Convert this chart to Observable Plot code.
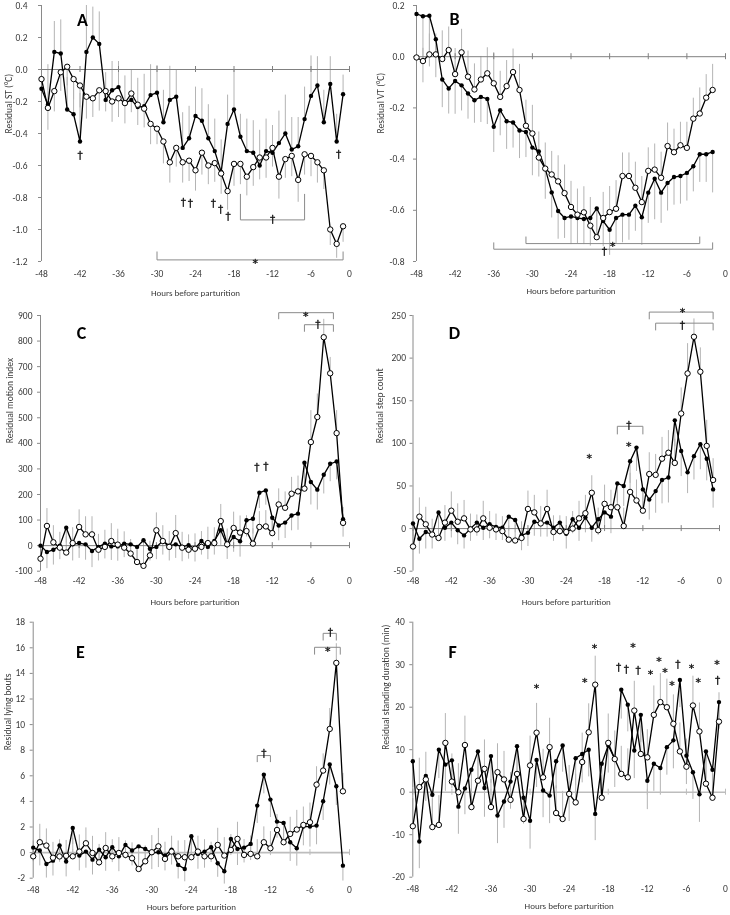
<!DOCTYPE html>
<html><head><meta charset="utf-8">
<script src="https://cdn.jsdelivr.net/npm/d3@7"></script>
<script src="https://cdn.jsdelivr.net/npm/@observablehq/plot@0.6"></script>
<style>
body{margin:0;background:#fff;}
#fig{position:relative;width:730px;height:915px;overflow:hidden;background:#fff;}
.panel{position:absolute;filter:grayscale(1);will-change:transform;}
</style></head><body><div id="fig"></div>
<script>
// ---------- data ----------
const hours = [-48,-47,-46,-45,-44,-43,-42,-41,-40,-39,-38,-37,-36,-35,-34,-33,-32,-31,-30,-29,-28,-27,-26,-25,-24,-23,-22,-21,-20,-19,-18,-17,-16,-15,-14,-13,-12,-11,-10,-9,-8,-7,-6,-5,-4,-3,-2,-1];
const hoursB = hours.slice(0, 47);
const xTicks = [-48,-42,-36,-30,-24,-18,-12,-6,0];

// Panel A: Residual ST
const stFilled = [-0.12,-0.22,0.11,0.10,-0.25,-0.28,-0.45,0.11,0.20,0.16,-0.19,-0.13,-0.11,-0.21,-0.19,-0.235,-0.23,-0.16,-0.145,-0.33,-0.19,-0.17,-0.49,-0.43,-0.29,-0.32,-0.43,-0.51,-0.64,-0.34,-0.25,-0.42,-0.51,-0.52,-0.60,-0.51,-0.52,-0.46,-0.40,-0.50,-0.48,-0.31,-0.165,-0.10,-0.33,-0.09,-0.45,-0.155];
const stOpen = [-0.06,-0.24,-0.135,-0.017,0.017,-0.06,-0.10,-0.17,-0.18,-0.13,-0.135,-0.20,-0.18,-0.21,-0.15,-0.22,-0.245,-0.34,-0.37,-0.45,-0.58,-0.49,-0.58,-0.57,-0.63,-0.52,-0.60,-0.585,-0.65,-0.76,-0.59,-0.59,-0.67,-0.61,-0.55,-0.55,-0.49,-0.67,-0.56,-0.54,-0.69,-0.53,-0.54,-0.58,-0.63,-1.00,-1.09,-0.98];
const stErrFilled = [0.12,0.25,0.19,0.21,0.2,0.22,0.3,0.29,0.19,0.2,0.17,0.18,0.16,0.17,0.19,0.18,0.2,0.19,0.17,0.2,0.21,0.17,0.22,0.2,0.18,0.2,0.21,0.2,0.2,0.18,0.25,0.14,0.2,0.2,0.22,0.2,0.17,0.2,0.24,0.2,0.18,0.2,0.25,0.18,0.2,0.17,0.17,0.12];
const stErrOpen = [0.12,0.14,0.13,0.12,0.12,0.13,0.14,0.14,0.12,0.13,0.13,0.13,0.12,0.13,0.12,0.13,0.12,0.13,0.1,0.14,0.13,0.12,0.13,0.13,0.13,0.14,0.12,0.12,0.13,0.12,0.14,0.13,0.12,0.12,0.14,0.13,0.12,0.14,0.12,0.13,0.14,0.13,0.13,0.13,0.12,0.1,0.09,0.1];
const stTicks = [-1.2,-1.0,-0.8,-0.6,-0.4,-0.2,0,0.2,0.4];

// Panel B: Residual VT (ends at -2 h)
const vtFilled = [0.167,0.158,0.16,0.068,-0.089,-0.124,-0.095,-0.112,-0.144,-0.17,-0.157,-0.165,-0.274,-0.209,-0.252,-0.257,-0.288,-0.294,-0.355,-0.37,-0.437,-0.53,-0.603,-0.63,-0.624,-0.63,-0.634,-0.63,-0.593,-0.642,-0.676,-0.63,-0.617,-0.617,-0.582,-0.627,-0.531,-0.477,-0.531,-0.493,-0.47,-0.466,-0.454,-0.428,-0.381,-0.381,-0.372];
const vtOpen = [-0.003,-0.017,0.009,0.009,-0.009,0.026,-0.068,0.017,-0.078,-0.128,-0.089,-0.065,-0.104,-0.157,-0.115,-0.06,-0.13,-0.27,-0.30,-0.394,-0.437,-0.46,-0.487,-0.533,-0.587,-0.617,-0.608,-0.66,-0.705,-0.63,-0.607,-0.594,-0.466,-0.466,-0.512,-0.568,-0.446,-0.441,-0.473,-0.349,-0.373,-0.346,-0.356,-0.242,-0.222,-0.16,-0.13];
const vtErrFilled = [0.1,0.26,0.2,0.15,0.11,0.1,0.13,0.1,0.1,0.09,0.1,0.1,0.1,0.1,0.11,0.1,0.11,0.1,0.11,0.1,0.12,0.1,0.11,0.08,0.11,0.1,0.1,0.11,0.1,0.1,0.1,0.1,0.11,0.1,0.1,0.11,0.12,0.16,0.12,0.11,0.11,0.11,0.11,0.1,0.11,0.11,0.16];
const vtErrOpen = [0.02,0.05,0.08,0.08,0.11,0.09,0.1,0.09,0.1,0.1,0.09,0.1,0.12,0.1,0.1,0.09,0.1,0.1,0.11,0.1,0.1,0.09,0.1,0.11,0.1,0.1,0.1,0.11,0.1,0.1,0.1,0.11,0.09,0.09,0.1,0.1,0.09,0.1,0.1,0.09,0.09,0.09,0.1,0.08,0.1,0.09,0.1];
const vtTicks = [-0.8,-0.6,-0.4,-0.2,0,0.2];

// Panel C: Residual motion index
const miFilled = [0,-25,-16,0,70,5,10,5,-21,-5,8,-3,-3,8,5,-5,21,-12,-5,18,0,5,-5,2,-12,18,-5,18,60,1,34,17,99,105,207,216,109,79,90,118,125,324,249,219,277,320,329,103];
const miOpen = [-51,77,13,-8,-27,10,73,44,44,-16,-5,18,4,-8,-31,-64,-79,-38,60,18,-5,49,-8,-16,-12,-5,10,10,96,5,69,51,57,8,73,75,49,161,148,203,212,223,405,503,815,674,440,89];
const miErrFilled = [55,65,60,55,60,65,60,62,65,55,60,55,58,55,50,55,52,48,50,55,60,55,58,55,52,55,50,55,60,55,60,62,65,60,62,58,55,60,62,60,65,70,90,80,75,70,72,70];
const miErrOpen = [50,68,65,60,62,60,67,69,69,60,65,68,60,62,55,52,50,55,68,60,60,69,60,58,58,60,62,60,65,60,62,65,60,58,60,62,60,61,62,64,60,65,123,90,70,62,88,60];
const miTicks = [-100,0,100,200,300,400,500,600,700,800,900];

// Panel D: Residual step count
const scFilled = [6,-12,-4,-7,19,1,7,-2,-8,0,7,1,5,2,1,14,10,-8,-5,8,6,7,1,7,-6,11,1,13,1,11,19,14,53,50,79,95,46,34,44,57,60,127,91,66,85,99,82,46];
const scOpen = [-21,14,5,-7,-11,7,21,8,12,-1,-1,12,1,-1,-3,-13,-14,-11,23,19,6,23,-4,-3,-4,0,12,18,42,-2,29,25,25,3,43,33,21,64,63,82,89,77,135,182,225,184,97,57];
const scErrFilled = [15,18,20,17,18,16,18,17,16,15,16,15,17,16,15,17,15,18,16,17,16,17,16,15,18,17,16,18,17,19,18,20,22,24,26,28,25,24,26,28,30,31,30,25,28,30,26,22];
const scErrOpen = [20,22,20,18,18,20,22,21,21,18,17,20,19,18,17,16,18,19,21,20,20,22,19,18,18,20,20,21,20,26,22,20,22,21,22,24,22,25,24,25,26,28,30,35,21,28,30,25];
const scTicks = [-50,0,50,100,150,200,250];

// Panel E: Residual lying bouts
const lbFilled = [0.39,0.16,-0.89,-0.63,0.55,-0.70,1.93,-0.23,0.08,-0.55,0.23,-0.36,0.42,-0.29,0.60,0.16,0.49,0.29,-0.03,0.03,-0.23,0.23,-0.96,-1.28,1.28,-0.10,0.08,0.42,-0.83,-1.46,1.07,0.29,0.39,0.68,3.67,6.09,4.14,2.42,2.32,0.81,0.34,2.03,2.03,2.11,4.01,6.88,5.18,-1.02];
const lbOpen = [-0.29,0.81,0.55,-0.4,-0.3,-0.25,-0.29,0.08,0.73,-0.03,-0.76,0.36,-0.29,-0.03,-0.18,-0.44,-1.28,-0.68,0.03,0.49,-0.49,0.08,-0.29,-0.36,-0.36,0.08,-0.29,-0.29,0.60,-0.23,0.21,1.07,-0.18,-0.10,-0.29,0.81,0.34,1.77,0.81,1.46,1.80,2.16,2.37,5.31,6.41,9.66,14.82,4.79];
const lbErrFilled = [1.1,1.2,1.1,1.2,1.3,1.2,1.3,1.2,1.3,1.2,1.3,1.1,1.2,1.2,1.1,1.2,1.1,1.2,1.3,1.2,1.2,1.2,1.1,1.0,1.3,1.2,1.3,1.2,1.1,1.0,1.2,1.3,1.2,1.3,1.4,1.5,1.4,1.3,1.6,1.5,1.4,1.5,1.6,1.5,1.5,1.6,1.5,1.2];
const lbErrOpen = [1.2,1.4,1.3,1.2,1.3,1.2,1.4,1.3,1.2,1.3,1.4,1.2,1.3,1.2,1.1,1.2,1.3,1.2,1.3,1.4,1.3,1.2,1.2,1.3,1.2,1.2,1.3,1.1,1.3,1.4,1.2,1.3,1.2,1.4,1.3,1.2,1.3,1.2,1.4,1.3,1.5,1.4,1.5,1.4,1.3,1.6,1.5,1.4];
const lbTicks = [-2,0,2,4,6,8,10,12,14,16,18];

// Panel F: Residual standing duration (min)
const sdFilled = [7.3,-11.6,3.8,-0.6,10.0,6.5,7.5,-3.4,0.9,5.3,9.6,1.0,8.5,-5.5,-2.2,2.5,10.8,-1.3,-6.7,7.6,0.4,-0.8,7.3,11.0,-0.2,8.0,9.0,10.0,-5.1,6.7,11.0,7.8,24.1,20.6,9.8,18.2,2.7,6.7,5.7,10.6,12.2,26.4,8.6,4.7,-0.5,9.6,5.3,21.2];
const sdOpen = [-8.0,1.2,3.0,-8.2,-7.7,11.6,2.5,0.0,11.1,-3.5,2.7,5.5,-3.5,4.7,3.0,-1.8,4.3,-6.3,6.3,14.0,3.5,10.6,-4.9,-6.3,-0.4,-2.4,7.1,14.1,25.3,-1.3,11.6,7.8,4.3,3.5,19.2,9.0,8.2,18.2,21.2,20.0,16.1,9.6,6.0,20.4,14.3,2.0,-1.3,16.6];
const sdErrFilled = [6.2,6.4,6.0,6.5,6.8,6.3,6.6,6.5,6.2,6.8,6.5,6.9,6.4,6.6,6.3,6.5,6.8,6.2,6.7,6.5,6.4,6.6,6.5,6.3,6.7,6.5,6.8,6.4,6.3,6.6,6.5,6.7,6.9,6.4,6.6,6.5,6.8,6.5,6.4,6.6,6.7,6.5,6.8,6.4,6.6,6.5,6.7,6.4];
const sdErrOpen = [6.5,6.8,6.4,6.6,6.9,6.9,6.5,6.7,6.8,6.4,6.6,6.8,6.5,6.7,6.6,6.4,6.8,6.5,6.9,6.9,6.6,6.8,6.4,6.5,6.7,6.6,6.8,6.7,6.7,6.5,6.8,6.6,6.5,6.7,6.9,6.6,6.5,6.8,6.7,6.6,6.8,6.7,6.5,6.9,6.7,6.6,6.5,6.8];
const sdTicks = [-20,-10,0,10,20,30,40];

// significance marks and brackets (hour, value)
const marksA = [{h:-42,v:-0.54,s:"†"},{h:-25.9,v:-0.83,s:"†"},{h:-24.8,v:-0.84,s:"†"},{h:-21.2,v:-0.84,s:"†"},{h:-20.1,v:-0.875,s:"†"},{h:-18.9,v:-0.92,s:"†"},{h:-1.7,v:-0.53,s:"†"},{h:-12,v:-0.94,s:"†"},{h:-14.7,v:-1.19,s:"*"}];
const bracketsA = [{x1:-17,x2:-7,y:-0.94,y0:-0.78},{x1:-30,x2:-1,y:-1.19,y0:-1.14}];
const marksB = [{h:-17.5,v:-0.729,s:"*"},{h:-18.8,v:-0.76,s:"†"}];
const bracketsB = [{x1:-36,x2:-2,y:-0.752,y0:-0.727},{x1:-31,x2:-4,y:-0.73,y0:-0.704}];
const marksC = [{h:-14.4,v:305,s:"†"},{h:-13.0,v:310,s:"†"},{h:-6.8,v:911,s:"*"},{h:-4.9,v:864,s:"†"}];
const bracketsC = [{x1:-11,x2:-2.5,y:911,y0:887},{x1:-7,x2:-2.5,y:864,y0:838}];
const marksD = [{h:-20.4,v:86,s:"*"},{h:-14.2,v:121,s:"†"},{h:-14.2,v:100,s:"*"},{h:-5.8,v:258,s:"*"},{h:-5.8,v:238,s:"†"}];
const bracketsD = [{x1:-16,x2:-12,y:120,y0:111},{x1:-11,x2:-1,y:254,y0:246},{x1:-10,x2:-1,y:241,y0:233}];
const marksE = [{h:-13,v:7.7,s:"†"},{h:-2.9,v:17.2,s:"†"},{h:-3.3,v:16.0,s:"*"}];
const bracketsE = [{x1:-14,x2:-12,y:7.58,y0:7.1},{x1:-4,x2:-2,y:17.13,y0:16.6},{x1:-5.3,x2:-1.4,y:16.04,y0:15.5}];
const marksF = [{h:-29,v:25.3,s:"*"},{h:-21.6,v:26.7,s:"*"},{h:-20.1,v:34.7,s:"*"},{h:-16.4,v:29.4,s:"†"},{h:-15.2,v:28.8,s:"†"},{h:-13.4,v:28.6,s:"†"},{h:-14.2,v:34.9,s:"*"},{h:-11.5,v:28.6,s:"*"},{h:-10.2,v:31.6,s:"*"},{h:-9.3,v:29.0,s:"*"},{h:-8.2,v:26.0,s:"*"},{h:-7.3,v:30.0,s:"†"},{h:-5.2,v:30.0,s:"*"},{h:-4.2,v:26.7,s:"*"},{h:-1.3,v:30.8,s:"*"},{h:-1.2,v:26.3,s:"†"}];
const bracketsF = [];

// ---------- drawing ----------
const FONT = "Carlito, Lato, 'Open Sans', sans-serif";
const SYMFONT = "'DejaVu Sans', sans-serif";
const AX = "#8a8a8a", ERR = "#b4b4b4";
const fmt1 = d => d.toFixed(1);
const fmt0 = d => String(d);

function bracketRows(br) {
  return br.flatMap((b, i) => [
    {x: b.x1, y: b.y0, k: i}, {x: b.x1, y: b.y, k: i},
    {x: b.x2, y: b.y, k: i}, {x: b.x2, y: b.y0, k: i}]);
}

function makePanel(p) {
  const rows = p.hours.map((h, i) => ({h, f: p.filled[i], o: p.open[i], ef: p.errF[i], eo: p.errO[i]}));
  const chart = Plot.plot({
    width: p.w, height: p.h,
    marginLeft: p.mL, marginRight: p.mR, marginTop: p.mT, marginBottom: p.mB,
    x: {domain: [-48, 0]},
    y: {domain: p.yDomain},
    style: {fontFamily: FONT, fontSize: "9.5px", color: "#3a3a3a", background: "transparent", overflow: "visible"},
    marks: [
      Plot.ruleX(rows, {x: "h", y1: "f", y2: d => d.f + p.dirF * d.ef, stroke: ERR, strokeWidth: 1}),
      Plot.ruleX(rows, {x: "h", y1: "o", y2: d => d.o + p.dirO * d.eo, stroke: ERR, strokeWidth: 1}),
      Plot.ruleY([0], {stroke: p.zeroStroke, strokeWidth: p.zeroWidth}),
      Plot.ruleX(xTicks, {x: d => d, y1: 0, y2: 0, insetTop: -3, insetBottom: -3, stroke: p.zeroStroke}),
      Plot.ruleX([-48], {stroke: AX}),
      Plot.axisY({ticks: p.yTicks, tickFormat: p.fmt, tickSize: 3, tickPadding: p.yPad, stroke: AX, label: null}),
      Plot.axisX({ticks: xTicks, tickFormat: fmt0, tickSize: 0, tickPadding: p.xPad, label: null}),
      Plot.line(bracketRows(p.brackets), {x: "x", y: "y", z: "k", stroke: AX, strokeWidth: 1}),
      Plot.line(rows, {x: "h", y: "f", stroke: "#000", strokeWidth: 1.3}),
      Plot.line(rows, {x: "h", y: "o", stroke: "#000", strokeWidth: 1.3}),
      Plot.dot(rows, {x: "h", y: "f", r: 2.2, fill: "#000", stroke: "none"}),
      Plot.dot(rows, {x: "h", y: "o", r: 2.7, fill: "#fff", stroke: "#000", strokeWidth: 1}),
      Plot.text(p.marks.filter(m => m.s === "*"), {x: "h", y: "v", text: "s", fontFamily: SYMFONT, fontSize: 11, fill: "#111", stroke: "#111", strokeWidth: 0.3, dy: 3.5}),
      Plot.text(p.marks.filter(m => m.s !== "*"), {x: "h", y: "v", text: "s", fontFamily: SYMFONT, fontSize: 10.5, fill: "#111", stroke: "#111", strokeWidth: 0.3}),
      Plot.text([p.letter], {text: d => d, frameAnchor: "top-left", dx: p.letterX - p.mL, dy: p.letterY - p.mT, fontSize: 18, fontWeight: "bold", fill: "#000", textAnchor: "middle", lineAnchor: "middle"}),
      Plot.text([p.ylabel], {text: d => d, frameAnchor: "left", dx: p.ylabelX - p.mL, rotate: -90, fontSize: 9.5, fill: "#3a3a3a", lineAnchor: "middle"}),
      Plot.text(["Hours before parturition"], {text: d => d, frameAnchor: "bottom", dy: p.titleDy, fontSize: 9, fill: "#3a3a3a", lineAnchor: "middle"})
    ]
  });
  chart.classList.add("panel");
  chart.style.left = p.left + "px";
  chart.style.top = p.top + "px";
  document.getElementById("fig").appendChild(chart);
}

const panels = [
  {letter: "A", ylabel: "Residual ST (°C)", hours: hours, filled: stFilled, open: stOpen, errF: stErrFilled, errO: stErrOpen, dirF: 1, dirO: -1,
   yDomain: [-1.2, 0.4], yTicks: stTicks, fmt: fmt1, marks: marksA, brackets: bracketsA,
   left: 0, top: 0, w: 365, h: 300, mL: 41, mR: 16, mT: 5, mB: 39, yPad: 11, xPad: 9, titleDy: 32,
   letterX: 82, letterY: 20, ylabelX: 8, zeroStroke: "#808080", zeroWidth: 1},
  {letter: "B", ylabel: "Residual VT (°C)", hours: hoursB, filled: vtFilled, open: vtOpen, errF: vtErrFilled, errO: vtErrOpen, dirF: -1, dirO: 1,
   yDomain: [-0.8, 0.2], yTicks: vtTicks, fmt: fmt1, marks: marksB, brackets: bracketsB,
   left: 365, top: 0, w: 365, h: 300, mL: 51, mR: 5, mT: 5, mB: 39, yPad: 9, xPad: 9, titleDy: 30,
   letterX: 89, letterY: 19, ylabelX: 15, zeroStroke: "#808080", zeroWidth: 1},
  {letter: "C", ylabel: "Residual motion index", hours: hours, filled: miFilled, open: miOpen, errF: miErrFilled, errO: miErrOpen, dirF: -1, dirO: 1,
   yDomain: [-100, 900], yTicks: miTicks, fmt: fmt0, marks: marksC, brackets: bracketsC,
   left: 0, top: 300, w: 365, h: 305, mL: 40, mR: 16, mT: 15, mB: 34.3, yPad: 5, xPad: 6, titleDy: 31,
   letterX: 81, letterY: 33, ylabelX: 9, zeroStroke: "#808080", zeroWidth: 1},
  {letter: "D", ylabel: "Residual step count", hours: hours, filled: scFilled, open: scOpen, errF: scErrFilled, errO: scErrOpen, dirF: -1, dirO: 1,
   yDomain: [-50, 250], yTicks: scTicks, fmt: fmt0, marks: marksD, brackets: bracketsD,
   left: 365, top: 300, w: 365, h: 305, mL: 47.5, mR: 11, mT: 15, mB: 34.3, yPad: 4, xPad: 6, titleDy: 31,
   letterX: 89, letterY: 33, ylabelX: 14, zeroStroke: "#808080", zeroWidth: 1},
  {letter: "E", ylabel: "Residual lying bouts", hours: hours, filled: lbFilled, open: lbOpen, errF: lbErrFilled, errO: lbErrOpen, dirF: -1, dirO: 1,
   yDomain: [-2, 18], yTicks: lbTicks, fmt: fmt0, marks: marksE, brackets: bracketsE,
   left: 0, top: 605, w: 365, h: 310, mL: 32.7, mR: 16, mT: 16.7, mB: 37.3, yPad: 5, xPad: 8.5, titleDy: 29,
   letterX: 80, letterY: 47, ylabelX: 7, zeroStroke: "#bdbdbd", zeroWidth: 1.6},
  {letter: "F", ylabel: "Residual standing duration (min)", hours: hours, filled: sdFilled, open: sdOpen, errF: sdErrFilled, errO: sdErrOpen, dirF: -1, dirO: 1,
   yDomain: [-20, 40], yTicks: sdTicks, fmt: fmt0, marks: marksF, brackets: bracketsF,
   left: 365, top: 605, w: 365, h: 310, mL: 47.3, mR: 5, mT: 16.7, mB: 38.3, yPad: 5, xPad: 8.5, titleDy: 29,
   letterX: 87, letterY: 47, ylabelX: 20, zeroStroke: "#bdbdbd", zeroWidth: 1.6}
];
panels.forEach(makePanel);
</script>
</body></html>
